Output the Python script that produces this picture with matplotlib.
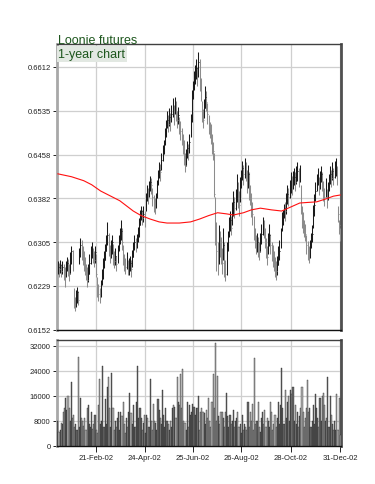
import numpy as np
import pandas as pd
import matplotlib
matplotlib.use("Agg")
import matplotlib.pyplot as plt

plt.rcParams['font.family'] = ['Liberation Sans', 'DejaVu Sans']

# ---------------- data ----------------
title = "Loonie futures"
subtitle = "1-year chart"
holidays = ['2002-01-21', '2002-02-18', '2002-03-29', '2002-05-27',
            '2002-07-04', '2002-09-02', '2002-11-28', '2002-12-25']
tick_dates = ['2002-02-21', '2002-04-24', '2002-06-25', '2002-08-26',
              '2002-10-28', '2002-12-31']
price_ticks = [0.6152, 0.6229, 0.6305, 0.6382, 0.6458, 0.6535, 0.6612]
volume_ticks = [0, 8000, 16000, 24000, 32000]

# prices in 1/10000 USD
close_bp = [6262, 6258, 6266, 6255, 6263,
            6256, 6248, 6264, 6270, 6260, 6252, 6275, 6290, 6268,
            6200, 6195, 6210, 6218, 6205,
            6285, 6300, 6292, 6280, 6270, 6262,
            6255, 6240, 6250, 6270, 6285, 6292, 6280, 6275, 6288,
            6250, 6228, 6215, 6210, 6230,
            6245, 6262, 6275, 6290, 6305, 6318, 6300, 6285, 6295, 6305, 6280, 6272, 6282,
            6268, 6290, 6305, 6318, 6325, 6305,
            6280, 6268, 6262, 6275, 6258,
            6262, 6270, 6258, 6280, 6295, 6305, 6300,
            6310, 6318, 6335, 6352, 6360, 6348, 6355, 6345,
            6380, 6395, 6388, 6400, 6410, 6405, 6385, 6372, 6368,
            6380, 6400, 6420, 6432, 6428,
            6450, 6462, 6475, 6490, 6505, 6520, 6512, 6525, 6515,
            6530, 6540, 6525, 6548, 6535, 6520, 6528,
            6510, 6500, 6490, 6478, 6460, 6440,
            6455, 6470, 6462, 6480,
            6520, 6560, 6575, 6590, 6600, 6610, 6595,
            6620, 6585, 6570,
            6535, 6520, 6540, 6560, 6550, 6530, 6510, 6500,
            6490, 6475, 6465, 6390,
            6330, 6290, 6270, 6320, 6300,
            6285, 6270, 6300, 6260, 6250, 6290,
            6310, 6335, 6345, 6330, 6360, 6375, 6365,
            6380, 6400, 6385, 6370, 6405, 6420, 6435, 6425, 6440,
            6430, 6410, 6425, 6395, 6385,
            6370, 6355, 6330, 6315, 6300, 6305, 6295,
            6290, 6305, 6320, 6335, 6330, 6310,
            6295, 6280, 6305, 6318, 6300, 6290,
            6280, 6270, 6262, 6255, 6265, 6280, 6290,
            6320, 6345, 6350, 6365, 6360,
            6375, 6390, 6385, 6400, 6410, 6405,
            6415, 6420, 6410, 6425, 6430, 6420, 6428,
            6370, 6350, 6340, 6330, 6320,
            6300, 6290, 6280, 6295,
            6310, 6320, 6355, 6370,
            6395, 6410, 6420, 6405, 6415, 6425, 6410,
            6395, 6385, 6400, 6380, 6395,
            6410, 6425, 6418, 6430, 6420, 6435,
            6440, 6420, 6355,
            6335, 6318]

high_bp = [6272, 6270, 6275, 6268, 6272,
           6268, 6262, 6272, 6280, 6276, 6268, 6288, 6298, 6292,
           6225, 6210, 6222, 6228, 6220,
           6295, 6312, 6310, 6298, 6290, 6280,
           6268, 6262, 6268, 6285, 6298, 6305, 6296, 6290, 6298,
           6285, 6245, 6232, 6225, 6240,
           6258, 6278, 6290, 6302, 6318, 6340, 6322, 6300, 6310, 6318, 6302, 6290, 6295,
           6282, 6300, 6318, 6330, 6345, 6330,
           6300, 6285, 6278, 6288, 6275,
           6278, 6282, 6275, 6292, 6305, 6318, 6312,
           6320, 6332, 6348, 6362, 6368, 6362, 6368, 6360,
           6392, 6405, 6400, 6412, 6422, 6418, 6400, 6388, 6382,
           6392, 6415, 6432, 6446, 6442,
           6462, 6475, 6485, 6505, 6520, 6535, 6528, 6540, 6532,
           6545, 6558, 6545, 6560, 6552, 6535, 6542,
           6525, 6518, 6505, 6495, 6485, 6462,
           6468, 6482, 6478, 6495,
           6530, 6572, 6588, 6605, 6615, 6625, 6612,
           6638, 6625, 6592,
           6552, 6538, 6555, 6578, 6570, 6548, 6528, 6515,
           6512, 6495, 6480, 6462,
           6385, 6340, 6305, 6335, 6325,
           6315, 6295, 6330, 6305, 6275, 6305,
           6325, 6350, 6360, 6352, 6375, 6395, 6385,
           6398, 6425, 6410, 6395, 6420, 6432, 6448, 6440, 6452,
           6445, 6432, 6440, 6428, 6405,
           6392, 6375, 6352, 6330, 6318, 6322, 6315,
           6305, 6322, 6338, 6350, 6345, 6330,
           6312, 6298, 6322, 6338, 6320, 6305,
           6300, 6290, 6280, 6272, 6282, 6298, 6310,
           6330, 6358, 6362, 6372, 6375,
           6392, 6405, 6400, 6415, 6428, 6422,
           6430, 6435, 6428, 6438, 6445, 6435, 6440,
           6405, 6368, 6358, 6345, 6338,
           6318, 6308, 6298, 6310,
           6322, 6335, 6370, 6390,
           6410, 6425, 6435, 6420, 6430, 6438, 6428,
           6412, 6400, 6418, 6398, 6410,
           6425, 6438, 6432, 6445, 6435, 6448,
           6452, 6438, 6368,
           6345, 6330]

low_bp = [6250, 6245, 6252, 6244, 6250,
          6240, 6228, 6245, 6255, 6246, 6238, 6250, 6268, 6255,
          6190, 6186, 6192, 6200, 6195,
          6268, 6280, 6275, 6265, 6255, 6248,
          6240, 6228, 6236, 6250, 6268, 6278, 6270, 6262, 6270,
          6245, 6210, 6202, 6200, 6210,
          6230, 6242, 6260, 6275, 6290, 6300, 6282, 6270, 6278, 6285, 6265, 6260, 6266,
          6255, 6270, 6290, 6302, 6310, 6292,
          6265, 6255, 6250, 6258, 6248,
          6248, 6255, 6245, 6262, 6280, 6292, 6288,
          6295, 6305, 6315, 6335, 6345, 6335, 6340, 6332,
          6360, 6378, 6372, 6385, 6395, 6390, 6368, 6358, 6355,
          6365, 6382, 6405, 6418, 6412,
          6432, 6448, 6460, 6475, 6490, 6505, 6498, 6508, 6500,
          6515, 6525, 6510, 6530, 6518, 6505, 6512,
          6495, 6485, 6475, 6460, 6440, 6428,
          6438, 6452, 6450, 6462,
          6490, 6515, 6555, 6572, 6582, 6590, 6578,
          6595, 6570, 6552,
          6515, 6505, 6522, 6540, 6535, 6512, 6495, 6488,
          6478, 6460, 6450, 6385,
          6300, 6255, 6248, 6268, 6280,
          6268, 6250, 6275, 6245, 6238, 6248,
          6290, 6315, 6325, 6318, 6335, 6352, 6348,
          6362, 6375, 6365, 6352, 6375, 6400, 6415, 6405, 6418,
          6412, 6392, 6400, 6380, 6370,
          6350, 6335, 6310, 6295, 6285, 6288, 6280,
          6275, 6288, 6302, 6318, 6312, 6295,
          6278, 6265, 6285, 6298, 6285, 6272,
          6262, 6255, 6245, 6240, 6248, 6265, 6275,
          6295, 6325, 6335, 6348, 6342,
          6355, 6372, 6368, 6382, 6392, 6388,
          6398, 6405, 6395, 6408, 6412, 6402, 6410,
          6355, 6330, 6322, 6315, 6308,
          6285, 6275, 6270, 6278,
          6295, 6305, 6330, 6352,
          6378, 6395, 6405, 6388, 6398, 6410, 6395,
          6378, 6368, 6385, 6365, 6380,
          6395, 6408, 6402, 6415, 6405, 6418,
          6422, 6405, 6340,
          6320, 6308]

volume = [8000, 4500, 5000, 7500, 7000, 11000, 12000, 15500, 11500, 16000,
          12000, 8000, 20500, 9000, 10000, 6000, 7000, 5000, 28500, 6000,
          15500, 9000, 8000, 6500, 9000, 5000, 12000, 13000, 7000, 6000,
          11000, 5500, 7000, 10000, 5000, 4000, 13000, 21500, 7000, 8000,
          25500, 6000, 15000, 7000, 19000, 22000, 12000, 6000, 23500, 12000,
          5000, 8000, 6000, 9000, 11000, 5000, 11000, 9500, 14000, 7000,
          4000, 9000, 6000, 11000, 17000, 10500, 7000, 13000, 6000, 6000,
          14000, 25500, 9000, 12000, 9000, 5000, 7500, 10000, 4000, 10000,
          9000, 6000, 21500, 8000, 5000, 13500, 8000, 7500, 5000, 15000,
          11500, 9000, 7000, 18000, 10000, 6000, 12000, 8000, 7000, 5000,
          8000, 6000, 12000, 13000, 12500, 9000, 22000, 14000, 13000, 23000,
          12000, 24500, 8000, 7500, 5000, 14000, 6000, 13000, 10000, 11000,
          13500, 12500, 10000, 12000, 12000, 16000, 5000, 11000, 12000, 11000,
          10500, 7000, 11500, 9000, 15500, 8000, 6000, 14000, 23000, 12000,
          33000, 8000, 22500, 9500, 7000, 11000, 11000, 9000, 6000, 11000,
          17000, 9500, 6000, 10000, 7000, 8000, 11500, 6000, 8000, 9000,
          11000, 6000, 7000, 4000, 10000, 5000, 7000, 6000, 5000, 14000,
          6000, 11000, 8000, 13500, 5000, 28000, 7000, 8000, 14000, 6000,
          4500, 9000, 11000, 7000, 11500, 6000, 9000, 8000, 6000, 14000,
          11000, 5000, 7000, 10000, 6000, 9000, 14000, 7000, 13000, 25000,
          12000, 7000, 18000, 9000, 14000, 16000, 8000, 18000, 16500, 19000,
          8000, 13000, 7000, 11000, 6000, 9500, 12000, 19000, 11000, 6000,
          9000, 12000, 21000, 11000, 12000, 6000, 8000, 13000, 7000, 16500,
          12000, 9000, 6000, 15500, 8000, 16000, 17000, 13000, 8000, 9000,
          22000, 6000, 16000, 10000, 7000, 5000, 8000, 5000, 16500, 5000,
          15500, 3500]

# 200-day moving average read at a set of sessions (session index, price)
ma_day = [0, 12, 23, 30, 38, 46, 55, 61, 67, 74, 82, 90, 97, 108, 118, 126,
          134, 142, 150, 156, 165, 172, 180, 190, 199, 207, 215, 222, 230, 238,
          245, 251]
ma_val = [0.6425, 0.6420, 0.6413, 0.6406, 0.6395, 0.6387, 0.6378, 0.6369,
          0.6360, 0.6352, 0.6346, 0.6341, 0.6339, 0.6339, 0.6341, 0.6346,
          0.6352, 0.6357, 0.6355, 0.6353, 0.6357, 0.6362, 0.6365, 0.6362,
          0.6360, 0.6367, 0.6374, 0.6375, 0.6376, 0.6381, 0.6386, 0.6388]

# ---------------- derived ----------------
dates = pd.bdate_range('2002-01-02', '2002-12-31').drop(pd.to_datetime(holidays))
n = len(close_bp)
x = np.arange(n)
close = np.array(close_bp) / 1e4
high = np.array(high_bp) / 1e4
low = np.array(low_bp) / 1e4
vol = np.array(volume)
prev = np.concatenate([[close[0]], close[:-1]])
up = close >= prev
bar_col = np.where(up, '#1a1a1a', '#8c8c8c')
vol_col = np.where(up, '#6a6a6a', '#b2b2b2')
tick_pos = [dates.get_loc(pd.Timestamp(d)) for d in tick_dates]
tick_lab = [pd.Timestamp(d).strftime('%d-%b-%y') for d in tick_dates]

# ---------------- figure ----------------
W, H = 375, 485
fig = plt.figure(figsize=(W / 100, H / 100), dpi=100)
ax = fig.add_axes([57 / W, 1 - 331 / H, 284 / W, 286 / H])
axv = fig.add_axes([57 / W, 1 - 447 / H, 284 / W, 106 / H])

grid_kw = dict(color='#cfcfcf', lw=0.9, zorder=0)
for a in (ax, axv):
    a.set_facecolor('white')
    a.set_xlim(-0.8, n - 0.3)
    a.set_xticks(tick_pos)
    a.grid(True, **grid_kw)
    a.set_axisbelow(True)
    a.spines['left'].set_color('#a8a8a8')
    a.spines['left'].set_linewidth(2.0)
    a.spines['right'].set_color('#505050')
    a.spines['right'].set_linewidth(2.0)
    a.spines['top'].set_color('#404040')
    a.spines['top'].set_linewidth(1.0)
    a.spines['bottom'].set_color('#111111')
    a.spines['bottom'].set_linewidth(1.0)
    a.tick_params(axis='y', labelsize=5.5, length=3, width=0.7,
                  colors='#222222', pad=1.5)

# price bars
ax.vlines(x, low, high, colors=bar_col, lw=0.75, zorder=3)
ax.hlines(close, x, x + 0.55, colors=bar_col, lw=0.7, zorder=3)
ax.plot(ma_day, ma_val, color='#ff1010', lw=0.8, zorder=4)
ax.set_ylim(0.6152, 0.6652)
ax.set_yticks(price_ticks)
ax.set_yticklabels([f'{t:.4f}' for t in price_ticks])
ax.tick_params(axis='x', length=0, labelbottom=False)

# volume bars
axv.bar(x, vol, width=1.0, color=vol_col, edgecolor='#1a1a1a',
        linewidth=0.25, zorder=3)
axv.set_ylim(0, 33900)
axv.set_yticks(volume_ticks)
axv.set_yticklabels([str(v) for v in volume_ticks])
axv.set_xticklabels(tick_lab)
axv.tick_params(axis='x', labelsize=5.5, length=4, width=0.7,
                colors='#222222', pad=2)

# titles
fig.text(58 / W, 1 - 44 / H, title, fontsize=9, color='#1d561d',
         ha='left', va='baseline')
ax.text(0.005, 0.985, subtitle, transform=ax.transAxes, fontsize=9,
        color='#1d561d', ha='left', va='top', zorder=6,
        bbox=dict(boxstyle='square,pad=0.15', fc='#e2e8e2', ec='none'))

fig.savefig('out.png', dpi=100)
